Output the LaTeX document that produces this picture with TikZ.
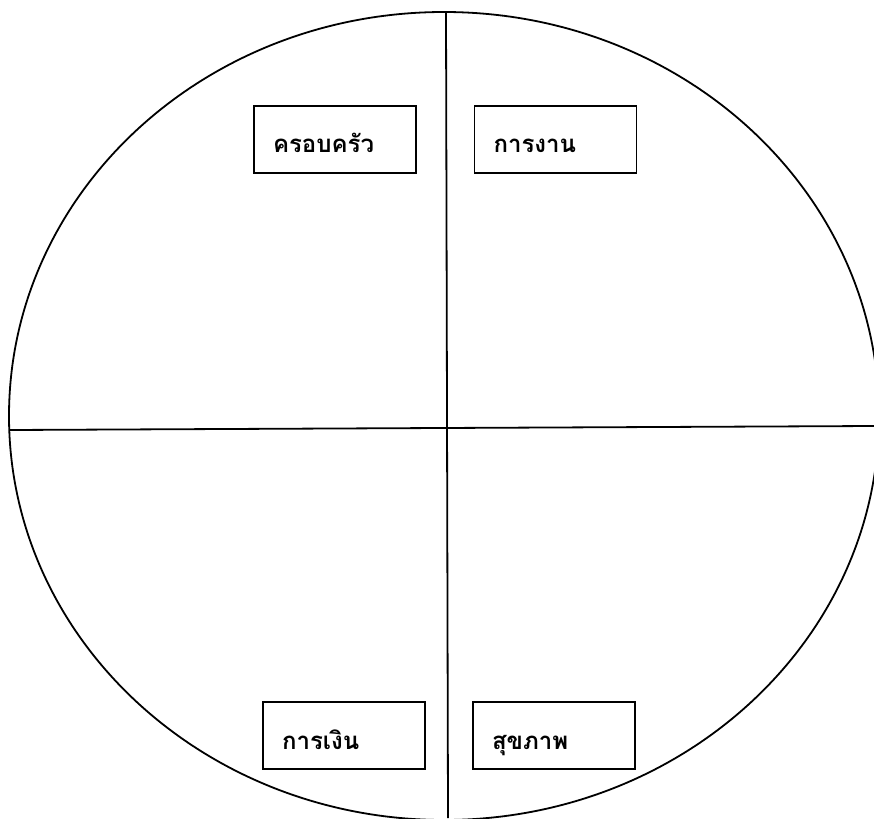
\documentclass[tikz,border=0pt]{standalone}
\usepackage{fontspec}
\newfontfamily\thaifont[Script=Thai]{Loma}
\begin{document}
\begin{tikzpicture}[x=1pt,y=-1pt,
  line width=1.8pt,
  lbl/.style={draw, line width=1.6pt, rectangle, minimum width=162pt, minimum height=67pt,
    inner xsep=19pt, text width=124pt, align=left, text height=30pt, text depth=3pt,
    font=\thaifont\bfseries\fontsize{24}{26}\selectfont}]
\useasboundingbox (0,0) rectangle (874,818);
\clip (0,0) rectangle (874,818);
\draw (444,416) ellipse [x radius=435, y radius=404];
\coordinate (L) at (10,430);
\coordinate (R) at (874,426);
\coordinate (T) at (446,12);
\coordinate (B) at (448,818);
\draw (L) -- (R);
\draw (T) -- (B);
\node[lbl] (fam) at (335,139.5) {ครอบครัว};
\node[lbl] (work) at (555.5,139.5) {การงาน};
\node[lbl] (money) at (344,735.5) {การเงิน};
\node[lbl] (health) at (554,735.5) {สุขภาพ};
\end{tikzpicture}
\end{document}
